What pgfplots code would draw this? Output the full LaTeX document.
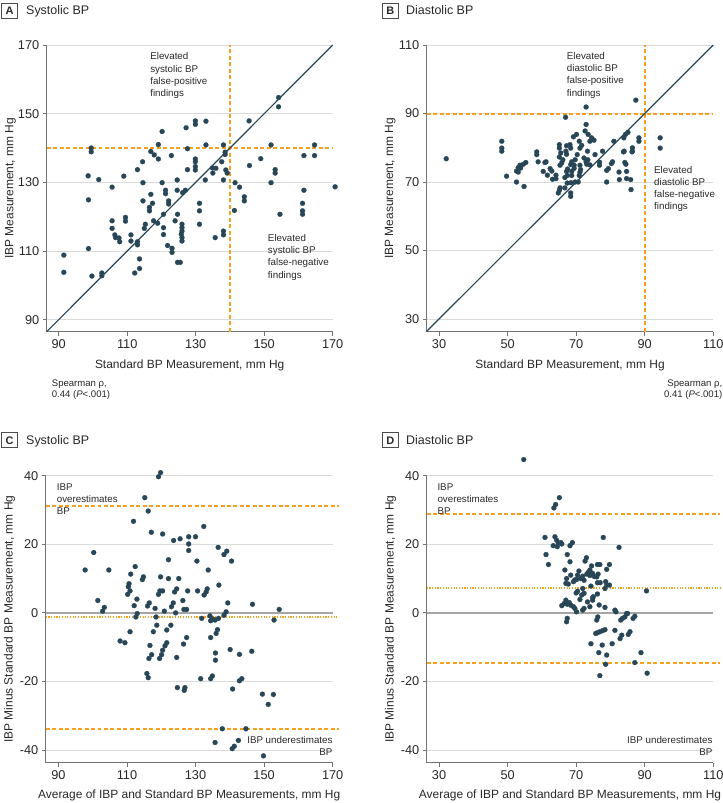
\documentclass[border=0pt]{standalone}
\usepackage{fontspec}
\setmainfont{Liberation Sans}
\usepackage{pgfplots}
\pgfplotsset{compat=1.18}
\definecolor{dotc}{RGB}{40,70,86}
\definecolor{orng}{RGB}{245,160,30}
\definecolor{txt}{RGB}{40,40,40}
\tikzset{ann/.style={font=\fontsize{9.8}{12.3}\selectfont, text=txt, inner sep=0pt}}
\pgfplotsset{
 panel/.style={
  scale only axis, axis lines*=left,
  axis line style={black!55, line width=0.9pt},
  tick align=outside, major tick length=4pt,
  tick style={black!55, line width=0.9pt},
  ymajorgrids, major grid style={black!14, line width=0.7pt},
  /pgf/number format/assume math mode=true,
  tick label style={font=\fontsize{12.8}{14}\selectfont, text=txt},
  label style={font=\fontsize{12}{14}\selectfont, text=txt},
  clip=false,
 },
 dots/.style={only marks, mark=*, mark size=2.5pt, mark options={fill=dotc, draw=dotc, line width=0.2pt}},
 odash/.style={orng, line width=2pt, dash pattern=on 4pt off 2.5pt},
 odot/.style={orng, line width=2pt, dash pattern=on 1.2pt off 1.5pt},
}
\begin{document}
\begin{tikzpicture}
\useasboundingbox (0,0) rectangle (723bp,-803bp);
% titles
\node[draw=black!70, line width=0.7pt, minimum width=15.6bp, minimum height=15bp, inner sep=0pt, font=\bfseries\fontsize{11}{13}\selectfont, text=txt] at (9.5bp,-10.8bp) {A};
\node[anchor=base west, inner sep=0pt, font=\fontsize{12.5}{15}\selectfont, text=txt] at (26bp,-14.5bp) {Systolic BP};
\node[draw=black!70, line width=0.7pt, minimum width=15.6bp, minimum height=15bp, inner sep=0pt, font=\bfseries\fontsize{11}{13}\selectfont, text=txt] at (390.3bp,-10.8bp) {B};
\node[anchor=base west, inner sep=0pt, font=\fontsize{12.5}{15}\selectfont, text=txt] at (406bp,-14.5bp) {Diastolic BP};
\node[draw=black!70, line width=0.7pt, minimum width=15.6bp, minimum height=15bp, inner sep=0pt, font=\bfseries\fontsize{11}{13}\selectfont, text=txt] at (9.5bp,-440.3bp) {C};
\node[anchor=base west, inner sep=0pt, font=\fontsize{12.5}{15}\selectfont, text=txt] at (26bp,-444.5bp) {Systolic BP};
\node[draw=black!70, line width=0.7pt, minimum width=15.6bp, minimum height=15bp, inner sep=0pt, font=\bfseries\fontsize{11}{13}\selectfont, text=txt] at (390.3bp,-440.3bp) {D};
\node[anchor=base west, inner sep=0pt, font=\fontsize{12.5}{15}\selectfont, text=txt] at (406bp,-444.5bp) {Diastolic BP};
% Spearman
\node[anchor=base west, inner sep=0pt, font=\fontsize{9.6}{11}\selectfont, text=txt] at (51.7bp,-386bp) {Spearman ρ,};
\node[anchor=base west, inner sep=0pt, font=\fontsize{9.6}{11}\selectfont, text=txt] at (51.7bp,-397.5bp) {0.44 (\textit{P}<.001)};
\node[anchor=base east, inner sep=0pt, font=\fontsize{9.6}{11}\selectfont, text=txt] at (722.5bp,-386bp) {Spearman ρ,};
\node[anchor=base east, inner sep=0pt, font=\fontsize{9.6}{11}\selectfont, text=txt] at (722.5bp,-397.5bp) {0.41 (\textit{P}<.001)};

% ---------- A ----------
\begin{axis}[panel, at={(46.7bp,-331.7bp)}, anchor=south west, width=286bp, height=286.7bp,
 xmin=86.5, xmax=170, ymin=86.5, ymax=170,
 xtick={90,110,130,150,170}, ytick={90,110,130,150,170},
 xlabel={Standard BP Measurement, mm Hg}, ylabel={IBP Measurement, mm Hg},
 xlabel style={at={(axis description cs:0.5,-0.1283)}, anchor=base},
 ylabel style={at={(axis description cs:-0.1169,0.5)}, anchor=base}]
\addplot[odash] coordinates {(86.5,140) (170,140)};
\addplot[odash] coordinates {(140,86.5) (140,170)};
\addplot[dotc, line width=1.2pt] coordinates {(86.5,86.5) (170,170)};
\addplot[dots] coordinates {
(154.2,154.7) (154.2,152.0) (145.6,147.9) (129.9,147.9) (129.9,146.9) (133.0,147.8) (127.2,145.9)
(120.2,144.8) (119.1,141.0) (99.5,140.0) (99.5,138.9) (127.6,139.8) (133.0,140.9) (138.1,140.9)
(152.0,140.9) (164.7,140.9) (138.6,138.8) (138.6,138.1) (116.9,139.0) (117.9,138.0) (119.1,136.8)
(122.9,137.8) (114.5,136.0) (137.6,136.0) (149.0,136.9) (161.6,137.8) (164.7,137.8) (129.9,136.8)
(129.9,136.0) (129.9,134.6) (129.9,133.6) (145.7,134.9) (113.0,133.7) (127.6,133.7) (134.9,134.2)
(135.9,134.1) (135.0,132.7) (138.8,133.6) (139.2,132.7) (153.2,133.7) (153.2,132.7) (98.6,131.9)
(101.7,130.8) (109.0,131.8) (114.6,129.9) (120.2,129.9) (124.6,130.7) (132.8,130.7) (138.1,130.7)
(141.5,129.9) (142.8,128.6) (152.0,129.9) (170.7,128.7) (105.6,128.6) (121.2,127.7) (121.2,126.7)
(124.6,127.7) (127.0,127.7) (126.2,127.0) (161.6,127.7) (98.7,124.9) (114.6,124.6) (116.9,126.5)
(117.4,123.9) (116.5,122.7) (116.5,121.7) (122.1,124.6) (122.1,123.7) (144.2,125.8) (144.2,124.6)
(131.1,123.9) (131.1,121.7) (120.6,120.7) (124.7,120.7) (141.3,121.8) (161.2,123.9) (161.2,121.7)
(161.2,120.7) (154.6,120.7) (105.6,118.8) (105.6,116.6) (109.5,119.8) (109.5,118.7) (117.7,118.8)
(118.9,118.1) (115.3,117.8) (115.0,116.6) (120.6,116.8) (120.6,114.8) (124.0,118.8) (126.0,117.8)
(126.0,116.8) (126.0,115.8) (125.8,114.9) (126.0,113.9) (126.0,112.9) (131.1,117.8) (106.4,114.7)
(106.6,113.9) (107.6,113.8) (107.8,112.7) (111.1,114.7) (111.1,112.9) (113.0,112.7) (113.0,111.8)
(135.7,113.9) (138.1,115.8) (138.1,114.7) (121.8,111.6) (123.1,110.8) (123.1,109.6) (98.7,110.7)
(91.5,108.8) (113.6,107.7) (124.7,106.7) (125.5,106.7) (113.6,104.9) (91.5,103.8) (99.7,102.7)
(102.6,103.6) (102.6,102.8) (112.2,103.6)
};
\node[ann, anchor=north west, align=left] at (axis cs:116.7,167.8) {Elevated\\systolic BP\\false-positive\\findings};
\node[ann, anchor=north west, align=left] at (axis cs:151.05,114.9) {Elevated\\systolic BP\\false-negative\\findings};
\end{axis}

% ---------- B ----------
\begin{axis}[panel, at={(426.7bp,-331.7bp)}, anchor=south west, width=286.6bp, height=286.7bp,
 xmin=26.4, xmax=110, ymin=26.3, ymax=110,
 xtick={30,50,70,90,110}, ytick={30,50,70,90,110},
 xlabel={Standard BP Measurement, mm Hg}, ylabel={IBP Measurement, mm Hg},
 xlabel style={at={(axis description cs:0.5,-0.1283)}, anchor=base},
 ylabel style={at={(axis description cs:-0.1169,0.5)}, anchor=base}]
\addplot[odash] coordinates {(26.4,90) (110,90)};
\addplot[odash] coordinates {(90,26.3) (90,110)};
\addplot[dotc, line width=1.2pt] coordinates {(26.4,26.4) (110,110)};
\addplot[dots] coordinates {
(87.4,93.9) (72.9,91.9) (66.9,88.9) (72.9,86.8) (72.6,84.9) (70.1,83.9) (69.2,83.2) (73.5,83.9)
(74.5,82.9) (75.2,82.2) (74.0,81.9) (48.3,81.9) (48.3,79.9) (48.3,79.0) (65.1,80.9) (65.1,79.9)
(67.2,80.6) (68.2,80.9) (68.4,79.9) (70.9,81.9) (71.6,80.7) (71.1,79.9) (73.3,79.0) (70.3,78.0)
(67.0,79.0) (67.2,78.1) (65.5,78.5) (65.1,77.3) (58.5,78.8) (58.5,78.0) (75.5,78.0) (77.7,79.0)
(81.0,81.9) (83.9,82.9) (84.4,83.9) (85.1,84.5) (84.0,79.0) (86.4,80.0) (86.4,79.0) (88.3,82.9)
(88.3,81.9) (94.5,82.9) (94.5,79.9) (69.7,76.5) (68.7,75.9) (68.4,75.1) (69.4,74.9) (66.1,76.5)
(65.8,75.6) (65.3,74.9) (72.3,77.0) (72.9,75.9) (73.1,75.2) (61.2,75.9) (58.9,75.9) (55.3,75.7)
(54.6,75.2) (53.6,74.9) (53.1,74.2) (53.8,74.1) (53.1,72.9) (52.6,73.2) (62.4,73.9) (62.9,73.2)
(61.6,72.0) (63.1,70.8) (60.4,73.1) (49.7,71.7) (52.6,70.0) (54.8,68.7) (64.1,72.0) (64.1,71.0)
(67.2,73.1) (67.4,71.9) (66.7,71.3) (68.7,73.1) (68.7,71.9) (71.1,72.9) (70.9,71.9) (70.6,70.0)
(69.7,70.0) (68.5,69.8) (67.4,69.7) (66.7,68.3) (65.3,68.3) (65.1,67.6) (64.8,66.8) (68.4,66.8)
(68.4,65.8) (78.9,73.4) (79.4,73.9) (80.3,75.4) (80.6,75.9) (78.9,70.0) (82.5,72.9) (82.6,70.7)
(84.7,73.1) (84.7,71.0) (85.9,70.7) (86.0,67.8) (84.2,75.7) (84.5,75.2) (32.1,76.8) (83.8,78.8)
(86.3,78.8) (71.1,74.9) (71.3,73.6) (69.4,74.0) (67.5,73.8) (73.4,76.5) (74.0,75.0) (76.8,75.8)
(76.8,74.9) (60.9,75.7)
};
\node[ann, anchor=north west, align=left] at (axis cs:67.24,107.9) {Elevated\\diastolic BP\\false-positive\\findings};
\node[ann, anchor=north west, align=left] at (axis cs:92.7,74.7) {Elevated\\diastolic BP\\false-negative\\findings};
\end{axis}

% ---------- C ----------
\begin{axis}[panel, at={(45.7bp,-762.7bp)}, anchor=south west, width=287bp, height=287bp,
 xmin=86.3, xmax=170, ymin=-43.7, ymax=40,
 xtick={90,110,130,150,170}, ytick={-40,-20,0,20,40}, yticklabels={-40,-20,0,20,40},
 xlabel={Average of IBP and Standard BP Measurements, mm Hg}, ylabel={IBP Minus Standard BP Measurement, mm Hg},
 xlabel style={at={(axis description cs:0.5,-0.123)}, anchor=base},
 ylabel style={at={(axis description cs:-0.115,0.5)}, anchor=base}]
\addplot[black!35, line width=1.3pt] coordinates {(86.3,0) (170,0)};
\addplot[odash] coordinates {(86.3,31.2) (171.7,31.2)};
\addplot[odot] coordinates {(86.3,-1.2) (171.7,-1.2)};
\addplot[odash] coordinates {(86.3,-34.0) (171.7,-34.0)};
\addplot[dots] coordinates {
(119.8,40.9) (119.2,39.7) (115.2,33.6) (116.2,29.7) (111.9,26.7) (117.1,23.5) (120.4,23.0) (132.4,25.2)
(123.6,21.1) (125.5,21.6) (128.0,22.2) (128.0,20.1) (128.0,18.2) (130.0,22.2) (136.6,19.1) (139.1,18.0)
(138.3,17.0) (140.5,15.1) (100.3,17.6) (122.1,15.5) (130.4,15.1) (97.8,12.5) (104.7,12.5) (133.7,12.5)
(112.4,13.5) (111.1,11.3) (114.8,10.5) (114.5,9.7) (119.8,10.5) (122.1,10.0) (125.1,10.0) (110.6,8.5)
(110.4,7.6) (110.9,6.4) (110.2,5.4) (136.8,8.1) (119.6,6.4) (120.4,6.4) (119.2,5.4) (124.5,7.0)
(123.9,6.1) (127.7,6.4) (130.6,6.4) (133.4,7.0) (133.1,6.1) (132.5,5.2) (101.5,3.6) (112.9,4.0)
(126.3,3.6) (103.4,1.6) (102.9,0.5) (112.1,2.1) (113.0,-0.2) (112.6,-1.2) (116.0,2.0) (116.5,2.9)
(118.2,1.3) (118.5,-1.2) (118.7,-3.6) (110.9,-5.5) (117.7,-5.5) (121.6,-5.0) (122.8,-3.6) (120.9,0.5)
(123.0,1.8) (123.5,2.9) (124.2,0.0) (126.6,1.0) (127.4,1.0) (131.8,-1.6) (134.2,-0.9) (135.0,-1.8)
(134.4,-2.3) (135.7,-2.1) (139.4,2.9) (138.3,-0.7) (138.9,0.3) (136.7,-1.6) (146.6,2.5) (154.4,1.0)
(152.9,-2.1) (136.4,-4.9) (136.0,-6.0) (134.4,-7.2) (127.4,-7.2) (126.5,-9.1) (108.0,-8.2) (109.4,-8.7)
(116.7,-9.5) (117.2,-12.2) (116.4,-13.3) (119.5,-13.3) (120.1,-12.2) (120.4,-10.9) (121.1,-9.6) (121.6,-8.7)
(124.5,-13.0) (135.8,-11.7) (135.8,-13.8) (140.1,-10.7) (142.8,-12.1) (146.4,-11.2) (115.8,-17.7) (116.2,-18.9)
(131.5,-19.2) (134.4,-19.2) (134.9,-18.4) (142.8,-19.8) (143.5,-19.2) (124.7,-21.8) (126.7,-22.6) (126.9,-21.8)
(140.8,-22.2) (149.5,-23.7) (152.7,-23.8) (151.2,-26.7) (137.8,-33.8) (144.7,-33.8) (135.7,-37.8) (142.5,-37.2)
(140.7,-39.6) (141.3,-38.9) (149.8,-41.7)
};
\node[ann, anchor=north west, align=left] at (axis cs:89.5,37.8) {IBP\\overestimates\\BP};
\node[ann, anchor=north east, align=right] at (axis cs:170,-35.9) {IBP underestimates\\BP};
\end{axis}

% ---------- D ----------
\begin{axis}[panel, at={(426.7bp,-762.7bp)}, anchor=south west, width=286.6bp, height=287bp,
 xmin=26.4, xmax=110, ymin=-43.7, ymax=40,
 xtick={30,50,70,90,110}, ytick={-40,-20,0,20,40}, yticklabels={-40,-20,0,20,40},
 xlabel={Average of IBP and Standard BP Measurements, mm Hg}, ylabel={IBP Minus Standard BP Measurement, mm Hg},
 xlabel style={at={(axis description cs:0.5,-0.123)}, anchor=base},
 ylabel style={at={(axis description cs:-0.115,0.5)}, anchor=base}]
\addplot[black!35, line width=1.3pt] coordinates {(26.4,0) (110,0)};
\addplot[odash] coordinates {(26.4,28.9) (112,28.9)};
\addplot[odot] coordinates {(26.4,7.3) (112,7.3)};
\addplot[odash] coordinates {(26.4,-14.5) (112,-14.5)};
\addplot[dots] coordinates {
(54.7,44.7) (65.1,33.6) (64.0,31.6) (63.5,30.6) (60.9,22.0) (63.8,22.2) (77.9,22.0) (82.5,19.1)
(64.3,21.2) (64.8,20.3) (65.5,20.5) (65.8,20.1) (64.5,19.3) (63.3,19.6) (68.9,20.5) (68.2,19.6)
(61.2,17.0) (67.4,17.0) (61.9,14.1) (68.2,14.9) (73.0,16.1) (72.6,15.1) (76.2,14.1) (76.9,14.1)
(79.7,14.1) (74.5,13.7) (74.0,12.5) (66.7,12.5) (70.8,12.2) (70.4,11.0) (70.1,9.7) (68.4,11.0)
(73.5,11.8) (73.1,11.3) (74.0,10.9) (74.8,11.5) (75.3,10.6) (76.0,10.5) (76.4,11.3) (78.9,12.7)
(71.3,10.0) (71.9,10.7) (72.3,9.5) (67.2,10.0) (67.0,8.6) (67.7,8.4) (69.2,9.1) (69.6,9.6)
(76.2,8.8) (77.0,8.8) (78.6,9.1) (78.9,8.1) (79.7,8.1) (78.4,7.1) (74.3,7.8) (70.4,6.3)
(70.0,5.8) (71.9,7.1) (72.3,5.7) (76.2,5.5) (90.5,6.4) (67.0,3.7) (71.1,3.9) (74.8,4.4)
(65.8,2.1) (66.5,2.7) (67.4,2.5) (68.0,3.0) (68.5,2.2) (69.2,1.8) (69.6,1.3) (67.4,-1.6)
(67.2,-2.6) (70.1,0.3) (71.6,5.2) (71.9,0.8) (72.3,1.3) (74.0,1.8) (74.8,3.7) (75.0,4.7)
(73.3,3.2) (76.7,2.3) (78.4,1.6) (76.3,-1.2) (76.0,-2.1) (81.3,0.8) (81.6,0.3) (83.0,-2.1)
(83.5,-1.6) (84.2,-1.2) (84.7,-0.2) (85.0,-0.2) (87.1,-1.0) (86.6,-1.6) (75.7,-6.0) (76.2,-5.8)
(76.9,-5.5) (78.4,-4.9) (77.7,-5.2) (81.3,-5.1) (82.8,-7.5) (83.3,-6.5) (85.7,-5.5) (85.2,-6.3)
(74.3,-9.0) (77.6,-9.4) (80.5,-9.0) (76.6,-11.6) (78.9,-12.3) (88.9,-11.6) (78.6,-15.0) (87.1,-14.5)
(76.9,-18.3) (90.7,-17.6)
};
\node[ann, anchor=north west, align=left] at (axis cs:29.5,37.8) {IBP\\overestimates\\BP};
\node[ann, anchor=north east, align=right] at (axis cs:109.8,-35.9) {IBP underestimates\\BP};
\end{axis}
\end{tikzpicture}
\end{document}
